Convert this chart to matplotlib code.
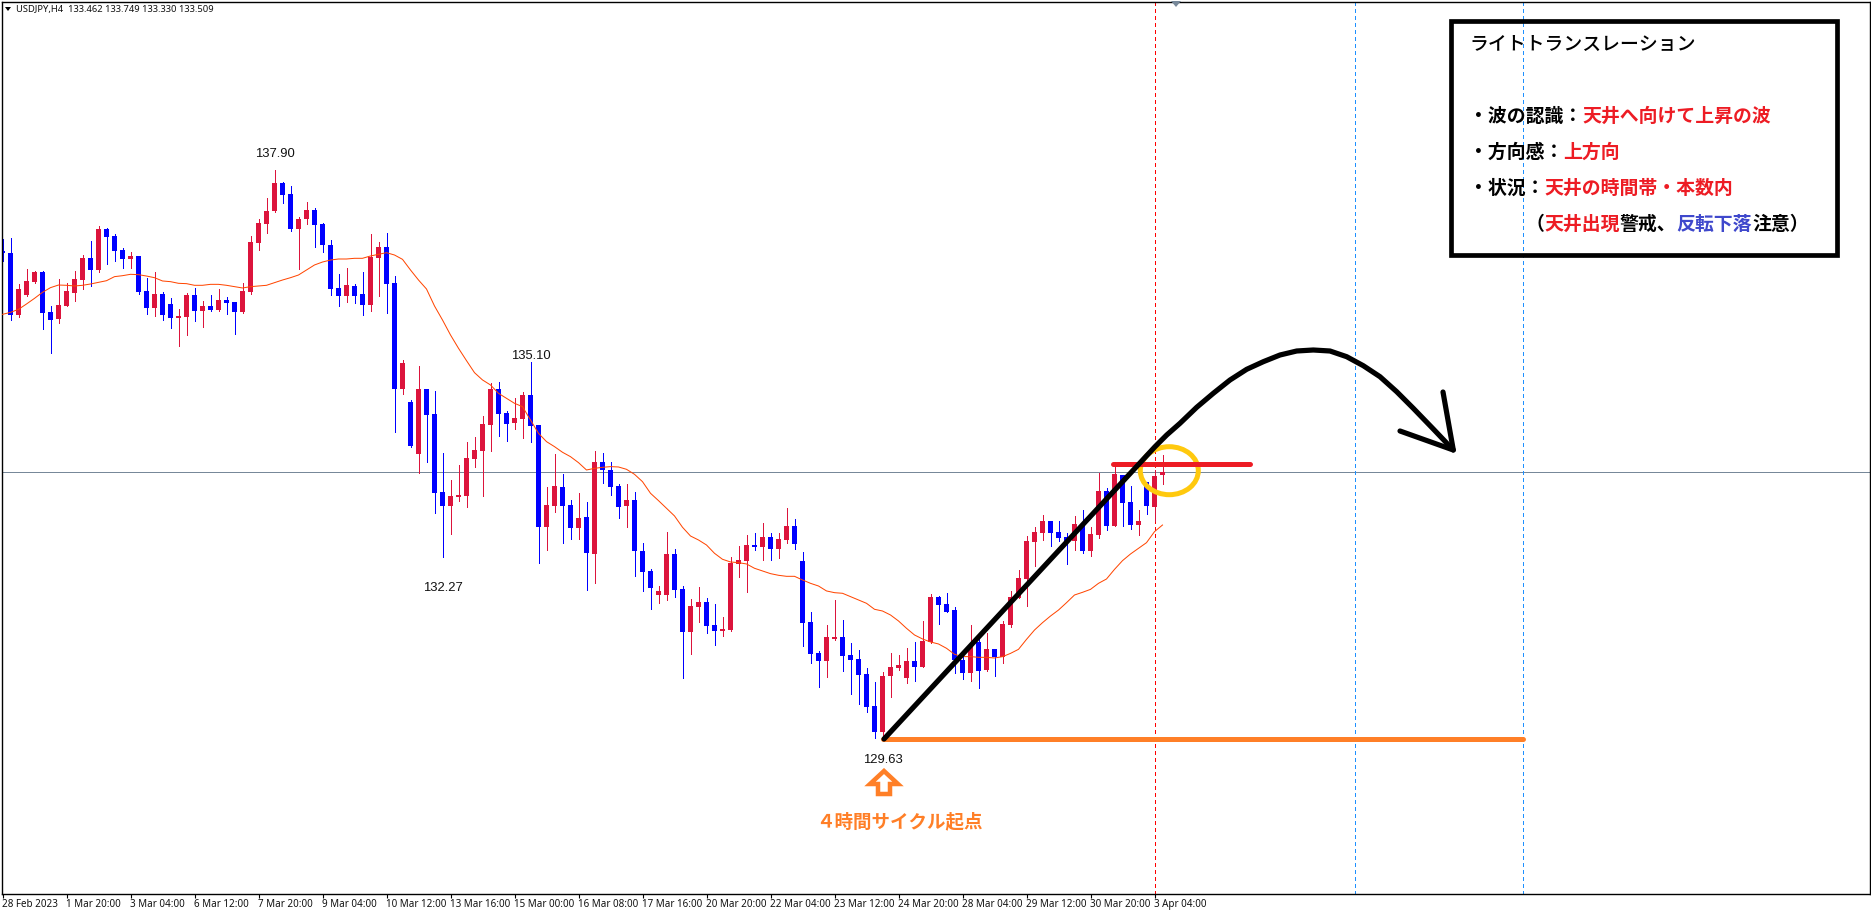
import numpy as np
import matplotlib
matplotlib.use("Agg")
import matplotlib.pyplot as plt
from matplotlib.patches import Ellipse, Polygon, Rectangle

# USDJPY H4 candles
opens = [136.725, 136.691, 135.789, 136.080, 136.269, 136.415, 135.832, 135.730, 135.920, 136.109,
         136.298, 136.618, 136.444, 137.041, 136.939, 136.735, 136.604, 136.648, 136.138, 135.890,
         136.094, 135.949, 135.745, 135.759, 136.080, 135.847, 135.920, 135.861, 136.007, 135.978,
         135.832, 136.123, 136.837, 137.113, 137.303, 137.710, 137.550, 137.041, 137.186, 137.317,
         137.113, 136.808, 136.182, 136.065, 136.211, 136.094, 135.934, 136.618, 136.779, 136.255,
         134.712, 134.522, 133.765, 134.711, 134.347, 133.211, 133.008, 133.139, 133.153, 133.692,
         133.808, 134.187, 134.711, 134.362, 134.216, 134.274, 134.624, 134.187, 132.702, 133.008,
         133.284, 133.022, 132.687, 132.847, 132.309, 133.649, 133.532, 133.299, 133.008, 133.095,
         132.353, 132.062, 131.712, 131.712, 132.309, 131.800, 131.174, 131.538, 131.610, 131.276,
         131.188, 131.203, 132.164, 132.207, 132.440, 132.411, 132.557, 132.382, 132.513, 132.717,
         132.207, 131.319, 130.868, 130.751, 131.072, 131.101, 130.839, 130.781, 130.562, 130.096,
         129.718, 130.533, 130.650, 130.504, 130.751, 130.664, 131.028, 131.683, 131.581, 131.494,
         130.766, 130.577, 131.028, 130.620, 130.926, 130.809, 131.275, 131.668, 131.945, 132.483,
         132.614, 132.789, 132.629, 132.556, 132.498, 132.745, 132.352, 132.585, 133.226, 132.716,
         133.459, 133.066, 132.731, 133.357, 132.993, 133.462]
highs = [136.895, 136.905, 136.240, 136.458, 136.434, 136.429, 135.920, 136.313, 136.250, 136.429,
         136.657, 136.866, 137.084, 137.055, 136.968, 136.764, 136.706, 136.648, 136.327, 136.415,
         136.123, 136.036, 135.876, 136.109, 136.182, 135.992, 136.080, 136.167, 136.051, 135.978,
         136.254, 136.939, 137.186, 137.492, 137.900, 137.725, 137.667, 137.215, 137.434, 137.346,
         137.128, 136.881, 136.386, 136.473, 136.240, 136.415, 136.968, 136.851, 136.982, 136.352,
         135.134, 134.551, 135.046, 134.711, 134.682, 133.779, 133.386, 133.604, 133.939, 134.012,
         134.318, 134.798, 134.813, 134.391, 134.580, 134.667, 135.100, 134.187, 133.284, 133.765,
         133.473, 133.095, 133.197, 133.066, 133.808, 133.780, 133.649, 133.328, 133.328, 133.212,
         132.469, 132.091, 131.843, 132.630, 132.382, 131.843, 131.654, 131.829, 131.669, 131.581,
         131.392, 132.266, 132.426, 132.586, 132.615, 132.761, 132.615, 132.615, 132.979, 132.819,
         132.338, 131.465, 130.897, 131.276, 131.640, 131.348, 131.014, 130.912, 130.650, 130.446,
         130.591, 130.868, 130.839, 130.941, 131.028, 131.334, 131.727, 131.698, 131.741, 131.538,
         130.839, 131.276, 131.101, 131.159, 130.926, 131.333, 131.770, 132.076, 132.571, 132.702,
         132.876, 132.789, 132.789, 132.614, 132.862, 132.949, 132.702, 133.488, 133.270, 133.575,
         133.459, 133.299, 132.949, 133.357, 133.532, 133.749]
lows = [136.580, 135.716, 135.759, 136.065, 136.254, 135.585, 135.235, 135.672, 135.920, 135.992,
        136.167, 136.211, 136.415, 136.531, 136.575, 136.473, 136.473, 136.094, 135.803, 135.774,
        135.716, 135.599, 135.337, 135.497, 135.701, 135.614, 135.847, 135.847, 135.803, 135.512,
        135.818, 136.094, 136.735, 136.982, 137.288, 137.419, 137.012, 136.458, 137.113, 136.779,
        136.706, 136.080, 135.920, 135.978, 135.963, 135.789, 135.847, 136.065, 135.818, 134.085,
        134.639, 133.867, 133.493, 133.648, 132.906, 132.270, 132.600, 133.080, 132.993, 133.575,
        133.153, 133.808, 134.027, 133.954, 134.129, 133.998, 133.939, 132.178, 132.367, 132.920,
        132.469, 132.527, 132.527, 131.785, 131.887, 133.343, 133.168, 132.833, 132.702, 131.989,
        131.771, 131.509, 131.596, 131.640, 131.683, 130.504, 130.853, 131.319, 131.159, 130.984,
        131.115, 131.188, 131.974, 131.756, 132.368, 132.222, 132.222, 132.251, 132.469, 132.382,
        130.970, 130.722, 130.373, 130.519, 131.057, 130.606, 130.271, 130.125, 130.009, 129.630,
        129.630, 130.227, 130.620, 130.431, 130.460, 130.664, 131.014, 131.290, 131.465, 130.577,
        130.489, 130.460, 130.358, 130.605, 130.533, 130.722, 131.246, 131.668, 131.552, 132.134,
        132.513, 132.425, 132.498, 132.163, 132.367, 132.323, 132.280, 132.542, 132.658, 132.716,
        132.716, 132.673, 132.585, 132.891, 132.789, 133.330]
closes = [136.696, 135.789, 136.167, 136.284, 136.415, 135.818, 135.716, 135.934, 136.138, 136.313,
          136.618, 136.444, 137.041, 136.924, 136.720, 136.604, 136.648, 136.123, 135.890, 136.094,
          135.789, 135.745, 135.774, 136.080, 135.847, 135.920, 135.861, 136.007, 135.963, 135.832,
          136.138, 136.851, 137.128, 137.303, 137.710, 137.536, 137.041, 137.186, 137.317, 137.099,
          136.808, 136.167, 136.065, 136.225, 136.065, 135.934, 136.633, 136.779, 136.240, 134.712,
          135.090, 133.882, 134.711, 134.332, 133.197, 133.008, 133.153, 133.168, 133.706, 133.823,
          134.201, 134.711, 134.347, 134.201, 134.289, 134.624, 134.172, 132.702, 133.022, 133.299,
          133.008, 132.687, 132.833, 132.323, 133.648, 133.532, 133.285, 132.994, 133.095, 132.353,
          132.047, 131.814, 131.771, 132.309, 131.785, 131.174, 131.552, 131.610, 131.261, 131.188,
          131.217, 132.178, 132.222, 132.440, 132.411, 132.557, 132.382, 132.528, 132.717, 132.455,
          131.305, 130.853, 130.751, 131.101, 131.101, 130.824, 130.766, 130.548, 130.082, 129.718,
          130.533, 130.664, 130.693, 130.751, 130.664, 131.043, 131.683, 131.567, 131.465, 130.766,
          130.577, 130.984, 130.606, 130.926, 130.809, 131.290, 131.683, 131.959, 132.498, 132.629,
          132.789, 132.614, 132.542, 132.483, 132.745, 132.352, 132.600, 133.226, 132.716, 133.473,
          133.051, 132.731, 132.789, 133.008, 133.444, 133.509]

# moving average, one value per bar
ma_values = [135.798, 135.827, 135.871, 135.949, 136.031, 136.119, 136.187, 136.225, 136.221, 136.211,
             136.221, 136.240, 136.264, 136.288, 136.347, 136.361, 136.381, 136.376, 136.356, 136.332,
             136.284, 136.274, 136.250, 136.245, 136.221, 136.221, 136.235, 136.235, 136.221, 136.201,
             136.182, 136.201, 136.211, 136.221, 136.259, 136.298, 136.332, 136.371, 136.444, 136.517,
             136.560, 136.589, 136.604, 136.604, 136.614, 136.614, 136.648, 136.672, 136.696, 136.662,
             136.599, 136.444, 136.298, 136.167, 135.920, 135.716, 135.498, 135.304, 135.124, 134.949,
             134.843, 134.770, 134.648, 134.576, 134.503, 134.454, 134.260, 134.066, 133.945, 133.872,
             133.790, 133.726, 133.639, 133.532, 133.556, 133.571, 133.581, 133.576, 133.542, 133.469,
             133.362, 133.193, 133.086, 132.974, 132.863, 132.698, 132.571, 132.513, 132.440, 132.319,
             132.232, 132.193, 132.183, 132.164, 132.101, 132.062, 132.023, 131.999, 131.984, 131.984,
             131.931, 131.882, 131.843, 131.771, 131.746, 131.737, 131.688, 131.640, 131.591, 131.504,
             131.479, 131.421, 131.334, 131.227, 131.130, 131.072, 131.028, 130.999, 130.936, 130.849,
             130.815, 130.815, 130.805, 130.804, 130.795, 130.814, 130.862, 130.921, 131.066, 131.202,
             131.309, 131.406, 131.493, 131.600, 131.712, 131.751, 131.794, 131.882, 131.945, 132.085,
             132.212, 132.309, 132.391, 132.474, 132.634, 132.731]

time_labels = ["28 Feb 2023", "1 Mar 20:00", "3 Mar 04:00", "6 Mar 12:00", "7 Mar 20:00", "9 Mar 04:00",
               "10 Mar 12:00", "13 Mar 16:00", "15 Mar 00:00", "16 Mar 08:00", "17 Mar 16:00",
               "20 Mar 20:00", "22 Mar 04:00", "23 Mar 12:00", "24 Mar 20:00", "28 Mar 04:00",
               "29 Mar 12:00", "30 Mar 20:00", "3 Apr 04:00"]

# extreme labels: bar, price, text, pixels away from the wick (+ is above)
peak_bars = [34, 66, 55, 110]
peak_prices = [137.90, 135.10, 132.27, 129.63]
peak_texts = ["137.90", "135.10", "132.27", "129.63"]
peak_offsets = [16, 6, -31, -22]

red_candle = "#dc143c"
blue_candle = "#0000ff"
jp_font = ["Noto Sans CJK JP", "DejaVu Sans"]

W, H = 1871, 911
fig = plt.figure(figsize=(W / 100, H / 100), dpi=100)
ax = fig.add_axes([1.5 / W, (H - 893.5) / H, 1868 / W, 892 / H])
ax.set_xlim(-0.125, 233.375)
ax.set_ylim(127.366, 140.353)

bars = np.arange(len(closes))
colors = [red_candle if c >= o else blue_candle for o, c in zip(opens, closes)]
bottoms = np.minimum(opens, closes)
heights = np.maximum(np.abs(np.array(closes) - np.array(opens)), 0.0146)

ax.axhline(133.497, color="#778899", lw=0.72, antialiased=False, zorder=1)
ax.axvline(144, color="#ff0000", lw=0.72, dashes=(3, 3), antialiased=False, zorder=1)
ax.axvline(169, color="#1e90ff", lw=0.72, dashes=(3, 3), antialiased=False, zorder=1)
ax.axvline(190, color="#1e90ff", lw=0.72, dashes=(3, 3), antialiased=False, zorder=1)

ax.vlines(bars, lows, highs, colors=colors, lw=0.72, antialiased=False, zorder=2)
ax.bar(bars, heights, bottom=bottoms, width=0.72, color=colors, linewidth=0, antialiased=False, zorder=2)
ax.plot(bars, ma_values, color="#ff4500", lw=0.72, zorder=3)

for b, p, t, off in zip(peak_bars, peak_prices, peak_texts, peak_offsets):
    ax.annotate(t, xy=(b, p), xytext=(0, off * 0.72), textcoords="offset points",
                ha="center", va="center", fontsize=9.4, family="Liberation Sans", color="#111111", zorder=4)

# axes frame and ticks
for s in ax.spines.values():
    s.set_linewidth(1.0)
ax.set_xticks(bars[::8])
ax.set_xticklabels(time_labels, ha="left", fontsize=7.1, family="Noto Sans", color="#111111")
ax.tick_params(axis="x", length=3, width=0.8, pad=1)
ax.yaxis.tick_right()
ax.set_yticks(np.arange(27) * -0.48048 + 139.902)
ax.tick_params(axis="y", length=2, width=0.8, labelright=False)

ax.text(0.0075, 0.9905, "USDJPY,H4  133.462 133.749 133.330 133.509", transform=ax.transAxes,
        fontsize=6.75, family="Noto Sans", va="center", color="#111111")

# hand drawn overlay, in image pixels
ov = fig.add_axes([0, 0, 1, 1])
ov.set_xlim(0, W)
ov.set_ylim(H, 0)
ov.axis("off")
ov.patch.set_alpha(0)

ov.add_patch(Polygon([(5, 7), (11, 7), (8, 11)], color="black", lw=0))
ov.add_patch(Polygon([(1171, 1), (1181, 1), (1176, 7)], color="#778899", lw=0))

px = 0.72
ov.plot([883, 1523], [739, 739], color="#ff7f27", lw=5 * px, solid_capstyle="round")
ov.plot([1113, 1250], [464.3, 464.3], color="#ed1c24", lw=5 * px, solid_capstyle="round")
ov.add_patch(Ellipse((1169.3, 470.7), 58, 48, fill=False, ec="#ffc90e", lw=5 * px))

curve_x = [884, 1155, 1166.7, 1180, 1196.7, 1213.3, 1230, 1246.7, 1263.3, 1280, 1296.7, 1313.3, 1330,
           1346.7, 1363.3, 1380, 1396.7, 1413.3, 1433.3, 1453.3]
curve_y = [739, 446.7, 435, 423.3, 407.3, 393.3, 380, 369.3, 361.7, 355, 351, 350, 351,
           356.7, 365.7, 376.7, 391.7, 408.3, 429, 450]
ov.plot(curve_x, curve_y, color="black", lw=5.2 * px, solid_capstyle="round", solid_joinstyle="round")
ov.plot([1443, 1453.3, 1400], [392, 450, 431], color="black", lw=5.2 * px,
        solid_capstyle="round", solid_joinstyle="round")

ov.add_patch(Polygon([(884, 771), (898, 784), (890, 784), (890, 794), (878, 794), (878, 784), (870, 784)],
                     fill=False, ec="#ff7f27", lw=4.5 * px))
ov.text(816, 822, "４時間サイクル起点", family=jp_font, fontweight="bold", fontsize=13.3,
        color="#ff7f27", va="center")

# text box
ov.add_patch(Rectangle((1451.5, 20.5), 386, 234, fill=False, ec="black", lw=4.7 * px))
ov.text(1469, 43.7, "ライトトランスレーション", family=jp_font, fontweight="medium", fontsize=13.6,
        va="center", color="black")

char_w = 18.93
box_lines = [
    (1468.7, 116.7, [("・波の認識：", "black"), ("天井へ向けて上昇の波", "#ed1c24")]),
    (1468.7, 152.7, [("・方向感：", "black"), ("上方向", "#ed1c24")]),
    (1468.7, 188.7, [("・状況：", "black"), ("天井の時間帯・本数内", "#ed1c24")]),
    (1525.3, 224.3, [("（", "black"), ("天井出現", "#ed1c24"), ("警戒、", "black"),
                     ("反転下落", "#3f48cc"), ("注意）", "black")]),
]
for x0, y0, parts in box_lines:
    x = x0
    for txt, col in parts:
        ov.text(x, y0, txt, family=jp_font, fontweight="bold", fontsize=13.6, va="center", color=col)
        x += len(txt) * char_w

fig.savefig("out.png", dpi=100)
